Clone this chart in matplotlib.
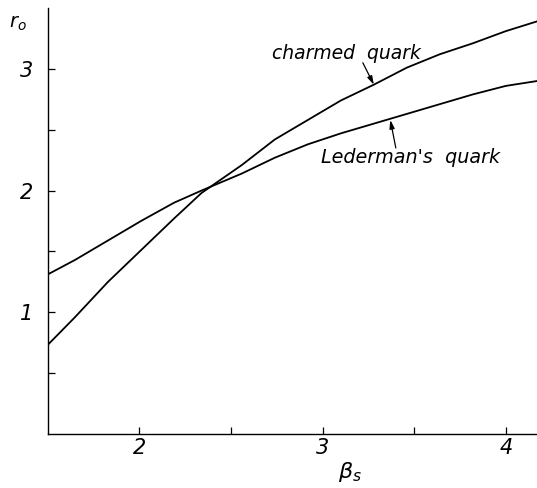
import matplotlib
matplotlib.use('Agg')
from matplotlib import pyplot as plt

# values
beta_s = [1.5, 1.65, 1.83, 2.01, 2.19, 2.34, 2.56, 2.74, 2.92, 3.10,
          3.28, 3.46, 3.64, 3.82, 4.00, 4.17]
charmed = [0.73, 0.96, 1.25, 1.51, 1.77, 1.98, 2.21, 2.42, 2.58, 2.74,
           2.87, 3.01, 3.12, 3.21, 3.31, 3.39]
lederman = [1.31, 1.43, 1.59, 1.75, 1.90, 2.00, 2.14, 2.27, 2.38, 2.47,
            2.55, 2.63, 2.71, 2.79, 2.86, 2.90]

x_ticks = [2, 2.5, 3, 3.5, 4]
x_labels = ['2', '', '3', '', '4']
y_ticks = [0.5, 1, 1.5, 2, 2.5, 3]
y_labels = ['', '1', '', '2', '', '3']

W, H = 537, 488
fig = plt.figure(figsize=(W / 100, H / 100), dpi=100)
ax = fig.add_axes([47.5 / W, 1 - 434 / H, (W - 47.5) / W, (434 - 8) / H])

ax.plot(beta_s, charmed, color='black', lw=1.3)
ax.plot(beta_s, lederman, color='black', lw=1.3)

ax.set_xlim(1.5, 4.17)
ax.set_ylim(0, 3.5)
for side in ['top', 'right']:
    ax.spines[side].set_visible(False)
ax.spines['left'].set_linewidth(1.0)
ax.spines['bottom'].set_linewidth(1.0)

ax.set_xticks(x_ticks)
ax.set_xticklabels(x_labels, fontsize=15, style='italic')
ax.set_yticks(y_ticks)
ax.set_yticklabels(y_labels, fontsize=15, style='italic')
ax.tick_params(direction='in', length=5, width=0.9)
ax.tick_params(axis='x', pad=3)
ax.tick_params(axis='y', pad=10)

# labels
fig.text(9 / W, 1 - 28 / H, r'$r_o$', fontsize=14, ha='left', va='baseline')
fig.text(350 / W, 1 - 472 / H, r'$\beta_s$', fontsize=16, ha='center', va='center')

# curve annotations
arrow = dict(arrowstyle='-|>,head_length=0.5,head_width=0.15',
             color='black', lw=0.9, shrinkA=0, shrinkB=0)
ax.text(3.13, 3.13, 'charmed  quark', fontsize=13.5, style='italic',
        ha='center', va='center')
ax.annotate('', xy=(3.28, 2.87), xytext=(3.22, 3.05), arrowprops=arrow)
ax.text(3.48, 2.27, "Lederman's  quark", fontsize=13.8, style='italic',
        ha='center', va='center')
ax.annotate('', xy=(3.37, 2.58), xytext=(3.40, 2.35), arrowprops=arrow)

fig.savefig('out.png', dpi=100)
